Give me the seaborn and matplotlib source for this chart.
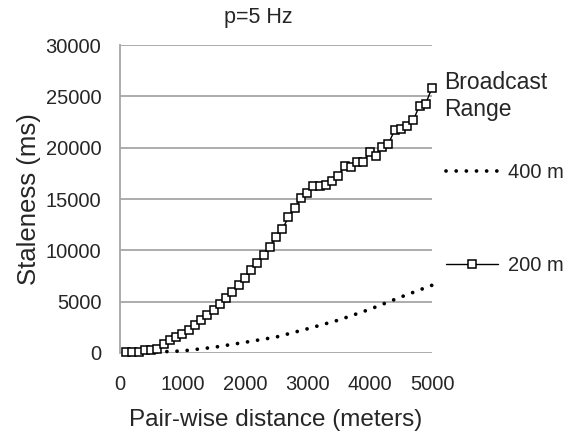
import matplotlib
matplotlib.use("Agg")
import matplotlib.pyplot as plt
import seaborn as sns
import numpy as np
import pandas as pd
from matplotlib.lines import Line2D

# ---- data ----
dist_200 = list(range(100, 5001, 100))
stale_200 = [50, 100, 100, 260, 260, 420, 910, 1240, 1560, 1890,
             2220, 2700, 3190, 3680, 4170, 4820, 5310, 5960, 6610, 7260,
             8080, 8730, 9540, 10360, 11270, 12050, 13220, 14100, 15080, 15570,
             16290, 16290, 16380, 16780, 17260, 18240, 18110, 18570, 18570, 19540,
             19150, 20070, 20360, 21690, 21820, 22090, 22670, 24100, 24300, 25830]
dist_400 = [100, 500, 1000, 1500, 2000, 2500, 3000, 3500, 4000, 4500, 5000]
stale_400 = [30, 80, 200, 550, 1040, 1550, 2350, 3200, 4250, 5450, 6600]
x_ticks = [0, 1000, 2000, 3000, 4000, 5000]
y_ticks = [0, 5000, 10000, 15000, 20000, 25000, 30000]
labels = ["400 m", "200 m"]

sns.set_style("white")
plt.rcParams['font.family'] = ['Liberation Sans', 'DejaVu Sans']
txt = '#262626'
grid_c = '#a6a6a6'

fig = plt.figure(figsize=(5.68, 4.36), dpi=100)
ax = fig.add_axes([120/568, 1-353/436, 312/568, 308/436])

df200 = pd.DataFrame({"d": dist_200, "s": stale_200})
df400 = pd.DataFrame({"d": dist_400, "s": stale_400})

sns.lineplot(data=df400, x="d", y="s", ax=ax, color='black', lw=2.7,
             linestyle=(0, (0.01, 2.7)), zorder=3)
sns.lineplot(data=df200, x="d", y="s", ax=ax, color='black', lw=1.0,
             marker='s', markersize=5.5, markerfacecolor='white',
             markeredgecolor='black', markeredgewidth=1.1, zorder=4)
lines = ax.get_lines()
lines[0].set_dash_capstyle('round')
for l in lines:
    l.set_clip_on(False)

ax.set_xlim(0, 5000)
ax.set_ylim(0, 30000)
ax.set_xticks(x_ticks)
ax.set_yticks(y_ticks)
ax.yaxis.grid(True, color=grid_c, lw=1.3)
ax.set_axisbelow(True)
for s in ['top', 'right', 'bottom']:
    ax.spines[s].set_visible(False)
ax.spines['left'].set_color(grid_c)
ax.spines['left'].set_linewidth(1.3)
ax.tick_params(axis='both', length=6.5, width=1.3, color=grid_c, labelsize=14.5,
               labelcolor=txt)
ax.tick_params(axis='y', pad=7)
ax.tick_params(axis='x', pad=9)
ax.set_xlabel("Pair-wise distance (meters)", fontsize=17.5, color=txt, labelpad=11)
ax.set_ylabel("Staleness (ms)", fontsize=18.5, color=txt, labelpad=3)

fig.text(258/568, 1-18/436, "p=5 Hz", ha='center', va='center', fontsize=15.5, color=txt)
fig.text(444/568, 1-96/436, "Broadcast\nRange", ha='left', va='center', fontsize=16.5,
         color=txt, linespacing=1.2)

handles = [Line2D([0], [0], color='black', lw=2.7, linestyle=(0, (0.01, 2.7)),
                  dash_capstyle='round'),
           Line2D([0], [0], color='black', lw=1.0, marker='s', markersize=5.5,
                  markerfacecolor='white', markeredgecolor='black', markeredgewidth=1.1)]
leg = fig.legend(handles, labels, loc='upper left', bbox_to_anchor=(446/568, 1-163/436),
                 frameon=False, fontsize=14.5, labelspacing=3.67, handlelength=2.6,
                 handletextpad=0.5, labelcolor=txt, borderaxespad=0, borderpad=0)

fig.savefig("out.png", dpi=100)
